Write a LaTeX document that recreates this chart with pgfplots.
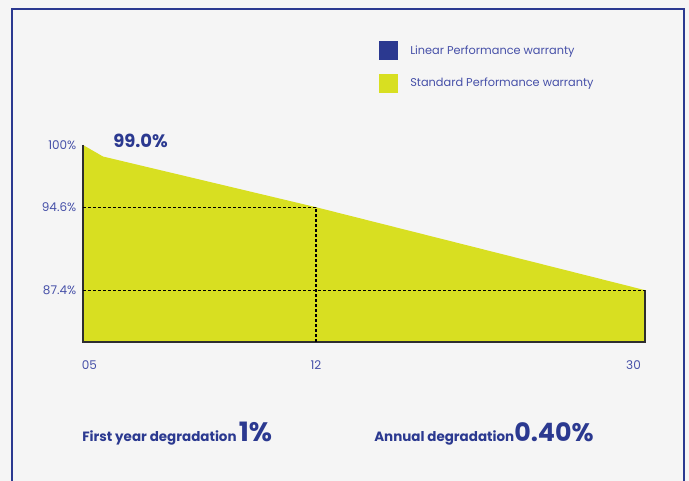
\documentclass[border=0pt]{standalone}
\usepackage{fontspec}
\setmainfont{Poppins}
\usepackage{graphicx}
\usepackage{pgfplots}
\pgfplotsset{compat=1.18}
\definecolor{bg}{HTML}{F5F5F5}
\definecolor{navy}{HTML}{2B3990}
\definecolor{tickc}{HTML}{4650A8}
\definecolor{ygreen}{HTML}{D8DF21}
\definecolor{edge}{HTML}{2E2E2E}
\begin{document}
\begin{tikzpicture}
\begin{scope}[x=0.75pt,y=0.75pt]
\fill[bg] (0,0) rectangle (689,481);
\useasboundingbox (0,0) rectangle (689,481);
\draw[navy, line width=1.5pt] (11.5,-10) -- (11.5,471.5) -- (683.5,471.5) -- (683.5,-10);
\node[anchor=base west, inner sep=0pt, text=navy] at (82,39) {\fontsize{10.1pt}{11pt}\selectfont\bfseries First year degradation\,\fontsize{20pt}{21pt}\selectfont 1\%};
\node[anchor=base west, inner sep=0pt, text=navy] at (374,39) {\fontsize{10.1pt}{11pt}\selectfont\bfseries Annual degradation\fontsize{19pt}{20pt}\selectfont 0.40\%};
\end{scope}
\begin{axis}[
  at={(62.25pt,104.25pt)}, anchor=south west,
  scale only axis, width=421.5pt, height=147.75pt,
  xmin=0, xmax=562, ymin=82.9, ymax=100,
  axis line style={draw=none}, major tick length=0pt,
  xtick={6.5,233,550.5}, xticklabels={05,12,30},
  ytick={100,94.6,87.4}, yticklabels={100\%,94.6\%,87.4\%},
  ticklabel style={font=\fontsize{9pt}{10pt}\selectfont, text=tickc},
  xticklabel style={anchor=center, yshift=-17.25pt},
  yticklabel style={anchor=east, xshift=-1.5pt},
  clip=false,
  legend style={at={(0.5267,1.528)}, anchor=north west, draw=none, fill=none,
    inner sep=0pt, row sep=10.1pt, column sep=9pt,
    font=\fontsize{8.5pt}{9pt}\selectfont, text=tickc,
    nodes={inner sep=0pt}},
  legend cell align=left,
  legend image code/.code={\fill (0pt,-7.125pt) rectangle (14.25pt,7.125pt);},
]
\addlegendimage{fill=navy, draw=none}
\addlegendentry{Linear Performance warranty}
\addlegendimage{fill=ygreen, draw=none}
\addlegendentry{Standard Performance warranty}
\addplot[fill=ygreen, draw=none, forget plot] coordinates {(0,82.9) (0,100) (20,99.0) (233,94.6) (562,87.4) (562,82.9)} -- cycle;
\addplot[edge, line width=1.5pt, forget plot] coordinates {(0,100) (0,82.9) (562,82.9) (562,87.4)};
\addplot[black, line width=0.8pt, dash pattern=on 2.25pt off 1.5pt, forget plot] coordinates {(0,94.6) (233,94.6) (233,82.9)};
\addplot[black, line width=0.8pt, dash pattern=on 2.25pt off 1.5pt, forget plot] coordinates {(0,87.4) (562,87.4)};
\node[anchor=base west, inner sep=0pt, text=navy, font=\fontsize{13.5pt}{14pt}\selectfont\bfseries] at (axis cs:30,99.74) {99.0\%};
\end{axis}
\end{tikzpicture}
\end{document}
